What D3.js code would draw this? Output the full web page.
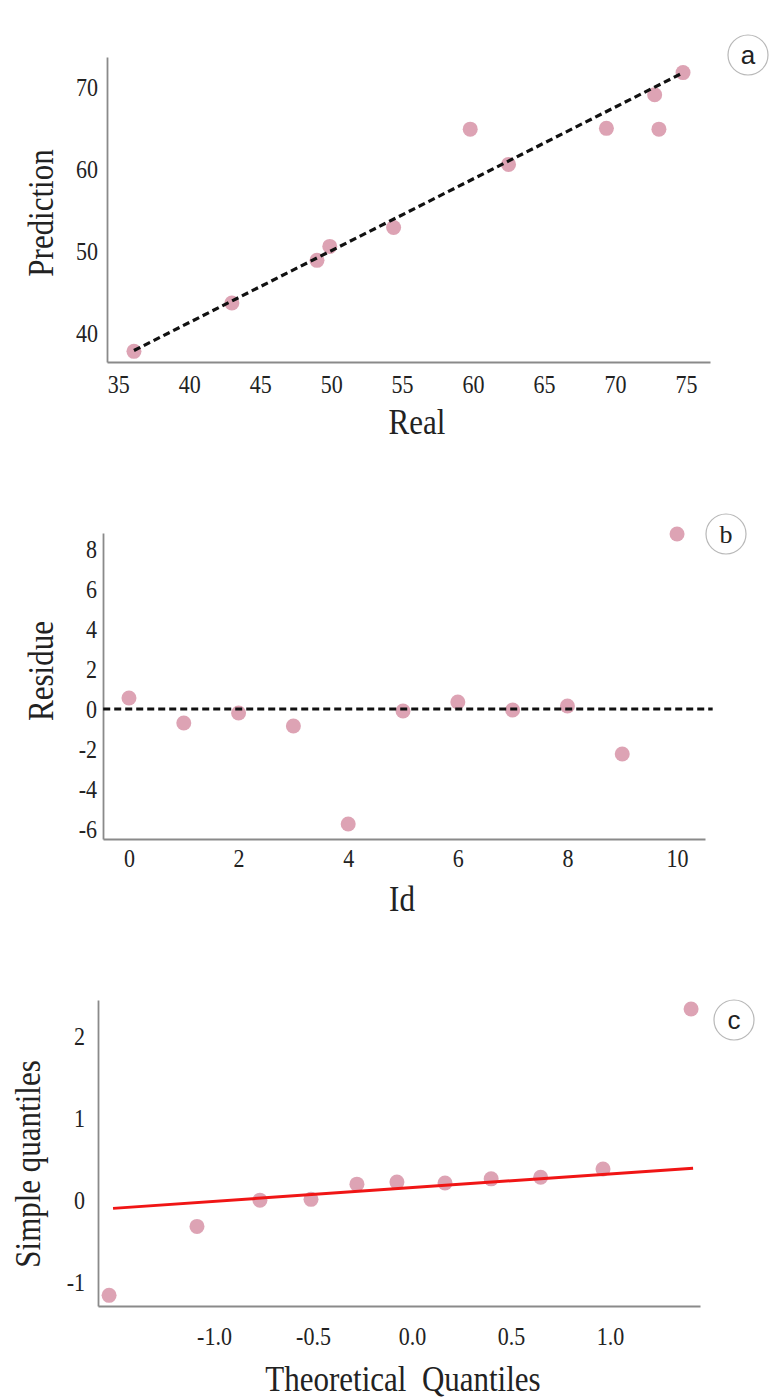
<!DOCTYPE html>
<html>
<head>
<meta charset="utf-8">
<script src="https://cdn.jsdelivr.net/npm/d3@7"></script>
<style>
  html, body { margin: 0; padding: 0; background: #fff; }
  svg text { font-family: "Liberation Serif", "DejaVu Serif", serif; fill: #222; }
  .tall { transform-box: fill-box; transform-origin: center; transform: scaleY(1.17); }
  .tick text { font-size: 22px; }
  .axis-title { font-size: 31px; white-space: pre; }
  .tag-circle { fill: #fff; stroke: #b8b8b8; stroke-width: 1.2; }
  .tag { font-size: 26px; }
</style>
</head>
<body>
<svg id="chart" width="782" height="1398"></svg>
<script>
// Panel (a): real vs predicted values
const realValues = [36.1, 43.0, 49.0, 49.9, 54.4, 59.8, 62.5, 69.4, 72.8, 73.1, 74.8];
const predValues = [37.8, 43.7, 48.9, 50.6, 52.9, 64.9, 60.6, 65.0, 69.1, 64.9, 71.8];
const fitLineA = [[36.1, 37.9], [74.6, 71.6]];
const ticksRealX = [35, 40, 45, 50, 55, 60, 65, 70, 75];
const ticksPredY = [40, 50, 60, 70];

// Panel (b): residue per sample id
const sampleIds = [0, 1, 2, 3, 4, 5, 6, 7, 8, 9, 10];
const residues = [0.55, -0.7, -0.2, -0.85, -5.75, -0.1, 0.35, -0.05, 0.15, -2.25, 8.75];
const zeroLineB = [[-0.47, 0], [10.65, 0]];
const ticksIdX = [0, 2, 4, 6, 8, 10];
const ticksResY = [-6, -4, -2, 0, 2, 4, 6, 8];

// Panel (c): Q-Q plot
const theoQuantiles = [-1.53, -1.086, -0.768, -0.51, -0.278, -0.076, 0.167, 0.40, 0.65, 0.965, 1.41];
const sampleQuantiles = [-1.16, -0.32, 0.0, 0.01, 0.195, 0.22, 0.21, 0.26, 0.28, 0.38, 2.33];
const qqLine = [[-1.51, -0.1], [1.42, 0.39]];
const ticksTheoX = [-1.0, -0.5, 0.0, 0.5, 1.0];
const ticksSimpleY = [-1, 0, 1, 2];

const svg = d3.select("#chart");
const pointColor = "#d58fa4";

// plain hyphen instead of the typographic minus sign
const fmt = spec => v => d3.format(spec)(v).replace("\u2212", "-");

function panel(cfg) {
  const g = svg.append("g");
  const x = d3.scaleLinear().domain(cfg.xDomain).range(cfg.xRange);
  const y = d3.scaleLinear().domain(cfg.yDomain).range(cfg.yRange);

  const xAxis = g.append("g")
    .attr("transform", `translate(0,${cfg.yRange[0]})`)
    .call(d3.axisBottom(x).tickValues(cfg.xTicks).tickSize(0)
      .tickPadding(cfg.xPad).tickFormat(fmt(cfg.xFormat || "d")));
  const yAxis = g.append("g")
    .attr("transform", `translate(${cfg.xRange[0]},0)`)
    .call(d3.axisLeft(y).tickValues(cfg.yTicks).tickSize(0)
      .tickPadding(cfg.yPad).tickFormat(fmt("d")));
  [xAxis, yAxis].forEach(a => {
    a.select(".domain").attr("stroke", "#8a8a8a").attr("stroke-width", 1.8);
    a.selectAll("text").attr("class", "tall").attr("font-family", null).attr("font-size", null);
  });

  g.append("g").selectAll("circle")
    .data(cfg.xs.map((v, i) => [v, cfg.ys[i]]))
    .join("circle")
    .attr("cx", d => x(d[0]))
    .attr("cy", d => y(d[1]))
    .attr("r", 7.5)
    .attr("fill", pointColor)
    .attr("fill-opacity", 0.82);

  g.append("path")
    .datum(cfg.line)
    .attr("d", d3.line().x(d => x(d[0])).y(d => y(d[1])))
    .attr("fill", "none")
    .attr("stroke", cfg.lineColor)
    .attr("stroke-width", cfg.lineWidth)
    .attr("stroke-dasharray", cfg.dash || null);

  // axis titles
  g.append("text")
    .attr("class", "axis-title tall")
    .attr("x", cfg.xTitlePos[0]).attr("y", cfg.xTitlePos[1])
    .attr("text-anchor", "middle")
    .text(cfg.xTitle);
  g.append("g")
    .attr("transform", `translate(${cfg.yTitlePos[0]},${cfg.yTitlePos[1]}) rotate(-90)`)
    .append("text")
    .attr("class", "axis-title tall")
    .attr("text-anchor", "middle")
    .text(cfg.yTitle);

  // panel tag
  const t = g.append("g").attr("transform", `translate(${cfg.tagPos[0]},${cfg.tagPos[1]})`);
  t.append("circle").attr("class", "tag-circle").attr("r", 20);
  t.append("text")
    .attr("class", "tag")
    .attr("text-anchor", "middle")
    .attr("dy", "0.33em")
    .style("font-family", cfg.tagFont)
    .text(cfg.tag);
}

panel({
  xDomain: [34.2, 76.7], xRange: [107, 710],
  yDomain: [36.5, 73.7], yRange: [362, 57],
  xTicks: ticksRealX, yTicks: ticksPredY, xPad: 14, yPad: 9,
  xs: realValues, ys: predValues,
  line: fitLineA, lineColor: "#111", lineWidth: 3.2, dash: "7,4",
  xTitle: "Real", xTitlePos: [417, 432],
  yTitle: "Prediction", yTitlePos: [51, 213],
  tag: "a", tagPos: [748, 55], tagFont: "'Liberation Sans', Arial, sans-serif"
});

panel({
  xDomain: [-0.474, 10.51], xRange: [103, 705],
  yDomain: [-6.5, 8.8], yRange: [839, 533],
  xTicks: ticksIdX, yTicks: ticksResY, xPad: 11, yPad: 6,
  xs: sampleIds, ys: residues,
  line: zeroLineB, lineColor: "#111", lineWidth: 3.2, dash: "7,4",
  xTitle: "Id", xTitlePos: [402, 909],
  yTitle: "Residue", yTitlePos: [51, 671],
  tag: "b", tagPos: [726, 534], tagFont: "'Liberation Serif', serif"
});

panel({
  xDomain: [-1.586, 1.455], xRange: [98, 700],
  yDomain: [-1.29, 2.44], yRange: [1306, 1000],
  xTicks: ticksTheoX, yTicks: ticksSimpleY, xPad: 22, yPad: 13,
  xFormat: ".1f",
  xs: theoQuantiles, ys: sampleQuantiles,
  line: qqLine, lineColor: "#f01515", lineWidth: 3,
  xTitle: "Theoretical  Quantiles", xTitlePos: [403, 1389],
  yTitle: "Simple quantiles", yTitlePos: [38, 1164],
  tag: "c", tagPos: [734, 1020], tagFont: "'Liberation Sans', Arial, sans-serif"
});
</script>
</body>
</html>
